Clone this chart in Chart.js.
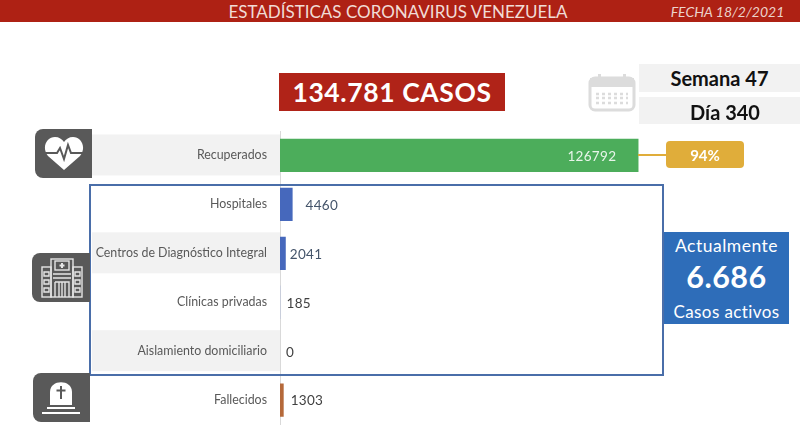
<!DOCTYPE html>
<html lang="es">
<head>
  <meta charset="UTF-8" />
  <title>Estadísticas Coronavirus Venezuela</title>
  <style>
    html, body { margin: 0; padding: 0; background: #fff; }
    body { width: 800px; height: 445px; position: relative; overflow: hidden; font-family: Lato, sans-serif; }
    canvas { position: absolute; left: 0; top: 0; }
    .box { position: absolute; display: flex; align-items: center; justify-content: center; white-space: nowrap; }
    .header { left: 0; top: 0; width: 800px; height: 22px; background: #ae2114; }
    .title { left: 200px; top: 0; width: 396px; height: 22px; color: #f1dcd6; font-size: 17px; }
    .fecha { left: 660px; top: 0; width: 135px; height: 22px; color: #ecd2cb; font-size: 14px; font-style: italic; }
    .casos { left: 279px; top: 73px; width: 226px; height: 38px; background: #b02318; color: #fff; font-size: 26.500px; font-weight: 700; letter-spacing: .6px; }
    .dia { left: 639px; width: 161px; height: 28px; background: #f2f2f2; color: #111; font-size: 20px; font-weight: 700; }
    .pct { left: 666px; top: 141px; width: 78px; height: 27px; background: #e0ad3a; border-radius: 4px; color: #fff; font-size: 15px; font-weight: 700; }
    .conn { position: absolute; left: 638px; top: 154px; width: 29px; height: 2px; background: #e0ad3a; }
    .activos { position: absolute; left: 664px; top: 232px; width: 125px; height: 92px; background: #2e6db9; color: #fff; text-align: center; }
    .activos div { position: absolute; left: 0; width: 125px; }
    .outline { position: absolute; left: 89px; top: 184px; width: 571px; height: 188px; border: 2px solid #4a6ea9; }
    .icon { position: absolute; background: #595959; border-radius: 8px 0 0 8px; }
    .icon svg, .cal { position: absolute; }
  </style>
</head>
<body>
  <canvas id="chart" width="800" height="445"></canvas>

  <div class="box header"></div>
  <div class="box title">ESTADÍSTICAS CORONAVIRUS VENEZUELA</div>
  <div class="box fecha">FECHA 18/2/2021</div>
  <div class="box casos">134.781 CASOS</div>

  <svg class="cal" style="left:588px;top:73px" width="48" height="39" viewBox="0 0 48 39">
    <rect x="2" y="5" width="44" height="32" rx="5" fill="none" stroke="#dcdcdc" stroke-width="3"/>
    <rect x="2" y="5" width="44" height="9" fill="#dcdcdc"/>
    <rect x="10" y="1" width="3" height="8" fill="#dcdcdc"/>
    <rect x="35" y="1" width="3" height="8" fill="#dcdcdc"/>
    <path d="M8 21h32M8 25h32M8 30h32" stroke="#dcdcdc" stroke-width="2.500" stroke-dasharray="3 3"/>
  </svg>
  <div class="box dia" style="top:64px">Semana 47</div>
  <div class="box dia" style="top:97px;height:27px;box-sizing:border-box;padding:2px 0 0 11px">Día 340</div>

  <div class="conn"></div>
  <div class="box pct">94%</div>

  <div class="outline"></div>

  <div class="icon" style="left:35px;top:129px;width:57px;height:49px">
    <svg style="left:9px;top:7px" width="40" height="36" viewBox="0 0 40 36">
      <path d="M20 34 L4 20 C-3 11 3 1 11 1 C15 1 18 3 20 6 C22 3 25 1 29 1 C37 1 43 11 36 20 Z" fill="#fff"/>
      <path d="M1 17 H13 L16 12 L20 23 L24 9 L27 17 H39" fill="none" stroke="#595959" stroke-width="2"/>
    </svg>
  </div>

  <div class="icon" style="left:32px;top:253px;width:58px;height:49px">
    <svg style="left:9px;top:5px" width="42" height="40" viewBox="0 0 42 40" fill="none" stroke="#e6e6e6" stroke-width="1.400">
      <rect x="10" y="1" width="22" height="38"/>
      <rect x="1" y="9" width="9" height="30"/>
      <rect x="32" y="9" width="9" height="30"/>
      <rect x="14" y="3" width="14" height="9"/>
      <path d="M21 5v5M18.500 7.500h5" stroke-width="2"/>
      <path d="M12 16h18M12 20h18M14 24h14v15M14 24v15M18 24v15M21 24v15M24 24v15"/>
      <path d="M3 14h5v4h-5zM3 22h5v4h-5zM3 30h5v4h-5zM34 14h5v4h-5zM34 22h5v4h-5zM34 30h5v4h-5z"/>
    </svg>
  </div>

  <div class="icon" style="left:33px;top:373px;width:57px;height:49px">
    <svg style="left:8px;top:8px" width="40" height="36" viewBox="0 0 40 36">
      <path d="M9 24 V11 C9 -2 31 -2 31 11 V24 Z" fill="#fff"/>
      <path d="M20 5 V18 M15.500 9.500 H24.500" stroke="#595959" stroke-width="2"/>
      <rect x="6" y="26" width="28" height="2" fill="#fff"/>
      <rect x="1" y="31" width="38" height="2" fill="#fff"/>
    </svg>
  </div>

  <div class="activos">
    <div style="top:3px;font-size:17.500px;letter-spacing:.5px">Actualmente</div>
    <div style="top:26px;font-size:30.500px;font-weight:700;letter-spacing:.5px">6.686</div>
    <div style="top:69px;font-size:17px;letter-spacing:.4px">Casos activos</div>
  </div>

  <script src="https://cdn.jsdelivr.net/npm/chart.js"></script>
  <script>
const categories = ["Recuperados", "Hospitales", "Centros de Diagnóstico Integral", "Clínicas privadas", "Aislamiento domiciliario", "Fallecidos"];
const casos = [126792, 4460, 2041, 185, 0, 1303];
const barColors = ["#4cad5b", "#4668bc", "#4668bc", "#b9c3dc", "#4668bc", "#b5693a"];
const labelColors = ["#e8f5ea", "#44546a", "#44546a", "#404040", "#404040", "#404040"];
// distance from the end of the bar to its number, negative goes inside the bar
const labelGaps = [-71, 13, 4, 6, 6, 7];
const bandRows = [0, 2, 4];

const rowBands = {
  id: "rowBands",
  beforeDraw(chart) {
    const { ctx, scales: { y } } = chart;
    ctx.save();
    ctx.fillStyle = "#f2f2f2";
    bandRows.forEach(i => {
      ctx.fillRect(92, y.getPixelForValue(i) - 21, y.right - 92, 41);
    });
    ctx.restore();
  }
};

const valueLabels = {
  id: "valueLabels",
  afterDatasetsDraw(chart) {
    const { ctx } = chart;
    ctx.save();
    ctx.font = "13.5px Lato";
    ctx.letterSpacing = "0.3px";
    ctx.textBaseline = "middle";
    chart.getDatasetMeta(0).data.forEach((bar, i) => {
      ctx.fillStyle = labelColors[i];
      ctx.fillText(casos[i], bar.x + labelGaps[i], bar.y + 1);
    });
    ctx.restore();
  }
};

new Chart(document.getElementById("chart"), {
  type: "bar",
  data: {
    labels: categories,
    datasets: [{
      data: casos,
      backgroundColor: barColors,
      categoryPercentage: 1,
      barPercentage: 0.68
    }]
  },
  options: {
    indexAxis: "y",
    responsive: false,
    animation: false,
    layout: { padding: { top: 131, bottom: 18, right: 160 } },
    plugins: { legend: { display: false }, tooltip: { enabled: false } },
    scales: {
      x: { display: false, min: 0, max: 127330 },
      y: {
        afterFit: s => { s.width = 280; },
        grid: { display: false, drawTicks: false },
        border: { color: "#d9d9d9", width: 1 },
        ticks: {
          padding: 13,
          color: "#595959",
          font: { family: "Lato", size: 12.4 }
        }
      }
    }
  },
  plugins: [rowBands, valueLabels]
});
  </script>
</body>
</html>
